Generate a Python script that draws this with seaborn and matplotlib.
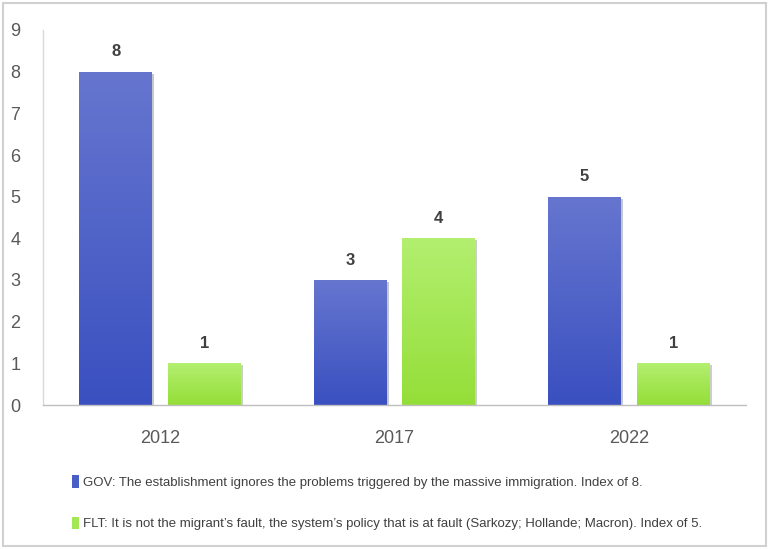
import numpy as np
import pandas as pd
import matplotlib
matplotlib.use("Agg")
import matplotlib.pyplot as plt
import matplotlib.patheffects as pe
from matplotlib.patches import Patch, Rectangle
from matplotlib.colors import LinearSegmentedColormap
import seaborn as sns

# Data
years = ["2012", "2017", "2022"]
gov_values = [8, 3, 5]
flt_values = [1, 4, 1]
series_labels = [
    "GOV: The establishment ignores the problems triggered by the massive immigration. Index of 8.",
    "FLT: It is not the migrant\u2019s fault, the system\u2019s policy that is at fault (Sarkozy; Hollande; Macron). Index of 5.",
]
series_keys = ["GOV", "FLT"]

df = pd.DataFrame({
    "year": years * 2,
    "value": gov_values + flt_values,
    "series": [series_keys[0]] * len(years) + [series_keys[1]] * len(years),
})

sns.set_theme(style="white")
plt.rcParams["font.family"] = ["Liberation Sans Narrow", "Liberation Sans", "DejaVu Sans"]

blue_top, blue_bot = "#6676CF", "#3A50C0"
green_top, green_bot = "#B3EF70", "#94DE38"
palette = {"GOV": "#4A5FC6", "FLT": "#A3E854"}

fig = plt.figure(figsize=(7.69, 5.49), dpi=100)
ax = fig.add_axes([43 / 769, 1 - 405 / 549, (746 - 43) / 769, (405 - 30) / 549])

sns.barplot(data=df, x="year", y="value", hue="series", order=years,
            hue_order=series_keys, palette=palette, width=0.757, gap=0.18,
            legend=False, ax=ax, zorder=2)

ax.set_ylim(0, 9)
ax.set_xlim(-0.5, 2.5)
ax.set_yticks(range(0, 10))
ax.set_xlabel("")
ax.set_ylabel("")

# Vertical gradient fill for each bar
grad = np.linspace(0, 1, 256).reshape(-1, 1)
for i, patch in enumerate(ax.patches):
    key = series_keys[0] if i < len(years) else series_keys[1]
    top, bot = (blue_top, blue_bot) if key == "GOV" else (green_top, green_bot)
    cmap = LinearSegmentedColormap.from_list("g", [bot, top])
    x0, y0 = patch.get_x(), patch.get_y()
    w, h = patch.get_width(), patch.get_height()
    patch.set_path_effects([pe.SimplePatchShadow(offset=(1.5, -1.5), alpha=0.25)])
    im = ax.imshow(grad, cmap=cmap, origin="lower", aspect="auto",
                   extent=(x0, x0 + w, y0, y0 + h), zorder=2.5, interpolation="bilinear")
    im.set_clip_path(patch)
    ax.text(x0 + w / 2, y0 + h + 0.3, f"{int(h)}", ha="center", va="bottom",
            fontsize=12, fontweight="bold", color="#404040")

ax.set_xlim(-0.5, 2.5)
ax.set_ylim(0, 9)

for side in ["top", "right"]:
    ax.spines[side].set_visible(False)
ax.spines["left"].set_color("#D9D9D9")
ax.spines["bottom"].set_color("#BFBFBF")
ax.spines["left"].set_linewidth(1.0)
ax.spines["bottom"].set_linewidth(1.0)
ax.tick_params(axis="y", length=0, pad=20, labelsize=13, labelcolor="#595959")
ax.tick_params(axis="x", length=0, pad=18, labelsize=13, labelcolor="#595959")
for lab in ax.get_yticklabels():
    lab.set_horizontalalignment("center")

handles = [Patch(facecolor=palette["GOV"], edgecolor="none"),
           Patch(facecolor=palette["FLT"], edgecolor="none")]
fig.legend(handles, series_labels, loc="upper left",
           bbox_to_anchor=(72 / 769, 1 - 475 / 549), frameon=False,
           fontsize=9.5, labelcolor="#404040", handlelength=0.5,
           handleheight=1.1, handletextpad=0.3, labelspacing=2.1,
           borderpad=0, borderaxespad=0)

# Outer frame
fig.patches.append(Rectangle((3 / 769, 3 / 549), 763 / 769, 543 / 549,
                             transform=fig.transFigure, fill=False,
                             edgecolor="#D0D0D0", linewidth=1.5))

fig.savefig("out.png", dpi=100)
